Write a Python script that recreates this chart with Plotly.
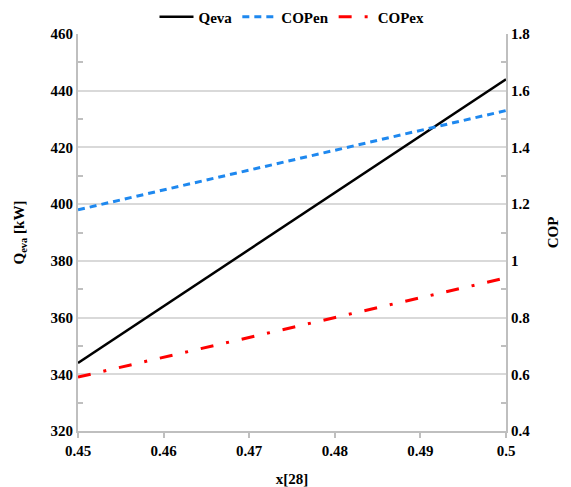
import plotly.graph_objects as go

# Mass fraction at state point 28
x28 = [0.45, 0.46, 0.47, 0.48, 0.49, 0.50]
# Evaporator load [kW]
q_eva = [344, 364, 384, 404, 424, 444]
# Energetic and exergetic COP
cop_en = [1.18, 1.25, 1.32, 1.39, 1.46, 1.53]
cop_ex = [0.59, 0.66, 0.73, 0.80, 0.87, 0.94]

FONT = "Times New Roman, Liberation Serif, serif"
AXIS_COLOR = "#bfbfbf"
GRID_COLOR = "#d9d9d9"

fig = go.Figure()
fig.add_trace(go.Scatter(x=x28, y=q_eva, name="Qeva", mode="lines",
                         line=dict(color="black", width=2.5), yaxis="y"))
fig.add_trace(go.Scatter(x=x28, y=cop_en, name="COPen", mode="lines",
                         line=dict(color="#1e88ef", width=3, dash="7px,5px"),
                         yaxis="y2"))
fig.add_trace(go.Scatter(x=x28, y=cop_ex, name="COPex", mode="lines",
                         line=dict(color="#ff0000", width=3,
                                   dash="13px,13px,3px,13px"),
                         yaxis="y2"))

fig.update_layout(
    width=571, height=487,
    margin=dict(l=78, r=65, t=34, b=56, autoexpand=False),
    paper_bgcolor="white", plot_bgcolor="white",
    font=dict(family=FONT, size=15, color="black", weight="bold"),
    showlegend=True,
    legend=dict(orientation="h", x=0.5, xanchor="center", y=1.043,
                yanchor="middle", font=dict(family=FONT, size=15, weight="bold"),
                itemwidth=34, tracegroupgap=0),
    xaxis=dict(range=[0.45, 0.5], dtick=0.01, tickformat="~g",
               showgrid=False, zeroline=False,
               showline=True, linecolor=AXIS_COLOR, linewidth=2,
               ticks="outside", ticklen=5, tickcolor=AXIS_COLOR, tickwidth=1.5,
               tickfont=dict(family=FONT, size=15, weight="bold"),
               title=dict(text="x[28]", standoff=18,
                          font=dict(family=FONT, size=15, weight="bold"))),
    yaxis=dict(range=[320, 460], dtick=20, showgrid=True,
               gridcolor=GRID_COLOR, gridwidth=1.5, zeroline=False,
               showline=True, linecolor=AXIS_COLOR, linewidth=2,
               ticks="", tickfont=dict(family=FONT, size=15, weight="bold"),
               minor=dict(dtick=10, ticks="inside", ticklen=5,
                          tickcolor=AXIS_COLOR, tickwidth=1.5, showgrid=False),
               title=dict(text="Q<sub>eva</sub> [kW]", standoff=22,
                          font=dict(family=FONT, size=15, weight="bold"))),
    yaxis2=dict(range=[0.4, 1.8], dtick=0.2, tickformat="~g",
                overlaying="y", side="right", showgrid=False, zeroline=False,
                showline=True, linecolor=AXIS_COLOR, linewidth=2,
                ticks="", tickfont=dict(family=FONT, size=15, weight="bold"),
                minor=dict(dtick=0.1, ticks="inside", ticklen=5,
                           tickcolor=AXIS_COLOR, tickwidth=1.5),
                title=dict(text="COP", standoff=18,
                           font=dict(family=FONT, size=15, weight="bold"))),
)

fig.write_html("out.html")
